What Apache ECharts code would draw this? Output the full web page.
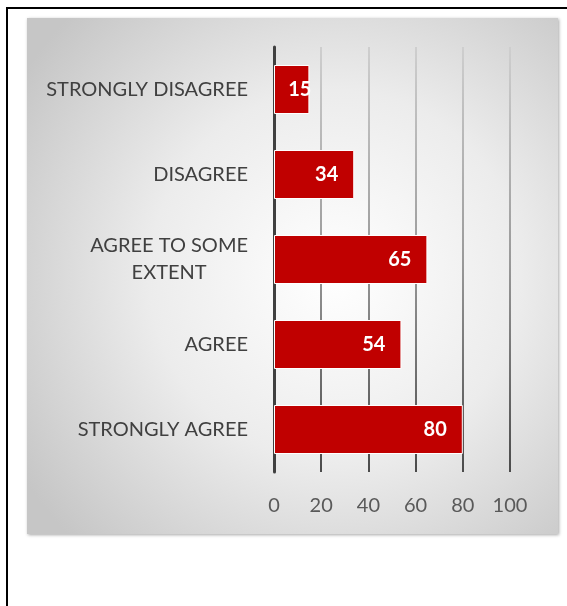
<!DOCTYPE html>
<html>
<head>
<meta charset="utf-8">
<script src="https://cdn.jsdelivr.net/npm/echarts@6/dist/echarts.min.js"></script>
<style>
  html, body { margin: 0; padding: 0; background: #fff; }
  #chart { width: 567px; height: 606px; }
</style>
</head>
<body>
<div id="chart"></div>
<script>
// categories top to bottom
var categories = ['STRONGLY DISAGREE', 'DISAGREE', 'AGREE TO SOME EXTENT', 'AGREE', 'STRONGLY AGREE'];
var responses = [15, 34, 65, 54, 80];
var xTicks = [0, 20, 40, 60, 80, 100];

var chart = echarts.init(document.getElementById('chart'));

// break long category names onto two lines, each line centred
function wrapLabel(name) {
    if (name === 'AGREE TO SOME EXTENT') {
        return '{c|AGREE TO SOME}\n{c|EXTENT}';
    }
    return '{c|' + name + '}';
}

// short bars: the label sticks out past the bar end like in the original
var barData = responses.map(function (v) {
    if (v < 20) {
        return { value: v, label: { distance: -2 } };
    }
    return v;
});

chart.setOption({
    animation: false,
    textStyle: { fontFamily: 'Lato, sans-serif' },
    graphic: [{
        type: 'rect',
        z: -10,
        shape: { x: 7, y: 8, width: 600, height: 640 },
        style: { fill: '#fff', stroke: '#000', lineWidth: 2 }
    }, {
        type: 'rect',
        z: -9,
        shape: { x: 27, y: 18, width: 531, height: 516 },
        style: {
            fill: new echarts.graphic.RadialGradient(0.58, 0.5, 0.72, [
                { offset: 0, color: '#ffffff' },
                { offset: 0.5, color: '#ececec' },
                { offset: 1, color: '#c6c6c6' }
            ]),
            shadowBlur: 3,
            shadowOffsetX: 1,
            shadowOffsetY: 1,
            shadowColor: 'rgba(0,0,0,0.35)'
        }
    }],
    grid: { left: 274, right: 57, top: 47, bottom: 134, containLabel: false },
    xAxis: {
        type: 'value',
        min: 0,
        max: 100,
        interval: 20,
        axisLine: { show: false },
        axisTick: { show: false },
        axisLabel: {
            margin: 24,
            fontSize: 20,
            color: '#595959',
            formatter: function (v) { return xTicks.indexOf(v) >= 0 ? String(v) : ''; }
        },
        splitLine: {
            lineStyle: {
                width: 2,
                color: new echarts.graphic.LinearGradient(0, 0, 0, 1, [
                    { offset: 0, color: '#cfcfcf' },
                    { offset: 0.5, color: '#9a9a9a' },
                    { offset: 1, color: '#4a4a4a' }
                ])
            }
        }
    },
    yAxis: {
        type: 'category',
        inverse: true,
        data: categories,
        axisLine: { show: true, lineStyle: { color: '#404040', width: 3 } },
        axisTick: { show: false },
        axisLabel: {
            margin: 26,
            formatter: wrapLabel,
            rich: {
                c: { align: 'center', fontSize: 20, color: '#404040', lineHeight: 27, fontFamily: 'Lato, sans-serif' }
            }
        }
    },
    series: [{
        type: 'bar',
        data: barData,
        barWidth: 49,
        itemStyle: { color: '#c00000', borderColor: '#ffffff', borderWidth: 1 },
        label: {
            show: true,
            position: 'insideRight',
            distance: 16,
            color: '#ffffff',
            fontSize: 20,
            fontWeight: 'bold'
        }
    }]
});
</script>
</body>
</html>
